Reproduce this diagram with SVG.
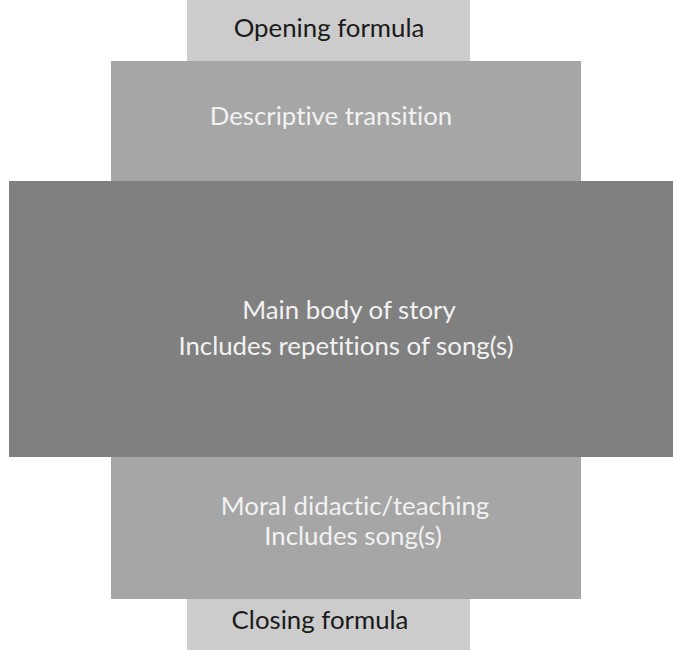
<svg xmlns="http://www.w3.org/2000/svg" width="673" height="650" viewBox="0 0 673 650">
<style>
.t{font-family:Lato,"Open Sans","Liberation Sans",sans-serif;font-size:25.8px;text-anchor:middle;font-variant-ligatures:none}
.dk{fill:#1a1a1a}
.lt{fill:#f2f2f2}
</style>
<rect width="673" height="650" fill="#ffffff"/>
<g id="opening">
<rect x="187" y="0" width="283" height="61" fill="#cccccc"/>
<text class="t dk" x="329" y="37">Opening formula</text>
</g>
<g id="descriptive">
<rect x="111" y="61" width="470" height="120" fill="#a6a6a6"/>
<text class="t lt" x="331" y="125">Descriptive transition</text>
</g>
<g id="main">
<rect x="9" y="181" width="664" height="276" fill="#808080"/>
<text class="t lt" x="349" y="319">Main body of story</text>
<text class="t lt" x="346" y="355">Includes repetitions of song(s)</text>
</g>
<g id="moral">
<rect x="111" y="457" width="470" height="142" fill="#a6a6a6"/>
<text class="t lt" x="355" y="515">Moral didactic/teaching</text>
<text class="t lt" x="353" y="545">Includes song(s)</text>
</g>
<g id="closing">
<rect x="187" y="599" width="283" height="51" fill="#cccccc"/>
<text class="t dk" x="320" y="629">Closing formula</text>
</g>
<g id="connectors"></g>
</svg>
